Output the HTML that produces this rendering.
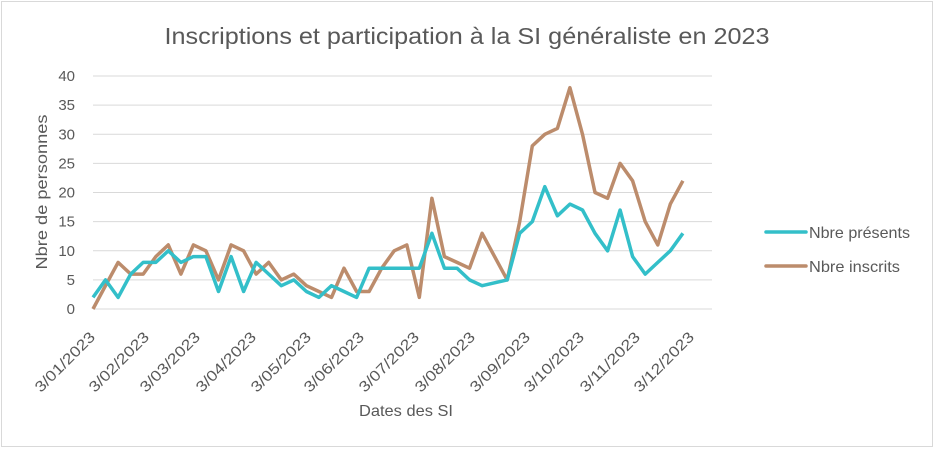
<!DOCTYPE html>
<html><head><meta charset="utf-8"><style>
body{margin:0;background:#fff}
svg{display:block;font-family:"Liberation Sans",sans-serif}
</style></head><body>
<svg id="s" width="935" height="449" viewBox="0 0 935 449">
<rect x="1.5" y="1.5" width="931" height="445" fill="#fff" stroke="#d9d9d9"/>
<text x="467" y="44" text-anchor="middle" font-size="23" fill="#595959" textLength="605" lengthAdjust="spacingAndGlyphs">Inscriptions et participation à la SI généraliste en 2023</text>
<g id="grid" stroke="#d9d9d9" stroke-width="1"></g>
<g id="yl" font-size="15" fill="#595959" text-anchor="end"></g>
<g id="xl" font-size="15" fill="#595959" text-anchor="end"></g>
<text transform="translate(47,192) rotate(-90)" text-anchor="middle" font-size="16" fill="#595959" textLength="155" lengthAdjust="spacingAndGlyphs">Nbre de personnes</text>
<text x="406" y="416" text-anchor="middle" font-size="16" fill="#595959" textLength="94" lengthAdjust="spacingAndGlyphs">Dates des SI</text>
<polyline id="pb" fill="none" stroke="#bc8c6c" stroke-width="3.5" stroke-linejoin="round"/>
<polyline id="pt" fill="none" stroke="#33bfc9" stroke-width="3.5" stroke-linejoin="round"/>
<line x1="766" y1="232" x2="806" y2="232" stroke="#33bfc9" stroke-width="3.5" stroke-linecap="round"/>
<text x="809" y="238" font-size="16" fill="#595959" textLength="101" lengthAdjust="spacingAndGlyphs">Nbre présents</text>
<line x1="766" y1="266" x2="806" y2="266" stroke="#bc8c6c" stroke-width="3.5" stroke-linecap="round"/>
<text x="809" y="272" font-size="16" fill="#595959" textLength="91" lengthAdjust="spacingAndGlyphs">Nbre inscrits</text>
</svg>
<script>
var NS="http://www.w3.org/2000/svg";
function Y(v){return 309-v*5.825}
function X(i){return 93+i*12.55}
var g=document.getElementById('grid'),yl=document.getElementById('yl'),xl=document.getElementById('xl');
for(var v=0;v<=40;v+=5){var l=document.createElementNS(NS,'line');l.setAttribute('x1',93);l.setAttribute('x2',712);l.setAttribute('y1',Y(v));l.setAttribute('y2',Y(v));g.appendChild(l);
var t=document.createElementNS(NS,'text');t.setAttribute('x',75);t.setAttribute('y',Y(v)+5);t.textContent=v;yl.appendChild(t);}
var ends=[96,150,201,257,312,365,420,476,531,585,641,695];
for(var m=0;m<12;m++){var t=document.createElementNS(NS,'text');var x=ends[m],y=338;
t.setAttribute('transform','translate('+x+','+y+') rotate(-45)');t.setAttribute('textLength','78');t.setAttribute('lengthAdjust','spacingAndGlyphs');t.textContent='3/'+(m<9?'0':'')+(m+1)+'/2023';xl.appendChild(t);}
var p=[2,5,2,6,8,8,10,8,9,9,3,9,3,8,6,4,5,3,2,4,3,2,7,7,7,7,7,13,7,7,5,4,4.5,5,13,15,21,16,18,17,13,10,17,9,6,8,10,13];
var b=[0,4,8,6,6,9,11,6,11,10,5,11,10,6,8,5,6,4,3,2,7,3,3,7,10,11,2,19,9,8,7,13,9,5,15,28,30,31,38,30,20,19,25,22,15,11,18,22];
function pts(a){return a.map(function(v,i){return X(i).toFixed(1)+','+Y(v).toFixed(1)}).join(' ')}
document.getElementById('pt').setAttribute('points',pts(p));
document.getElementById('pb').setAttribute('points',pts(b));
</script>
</body></html>
